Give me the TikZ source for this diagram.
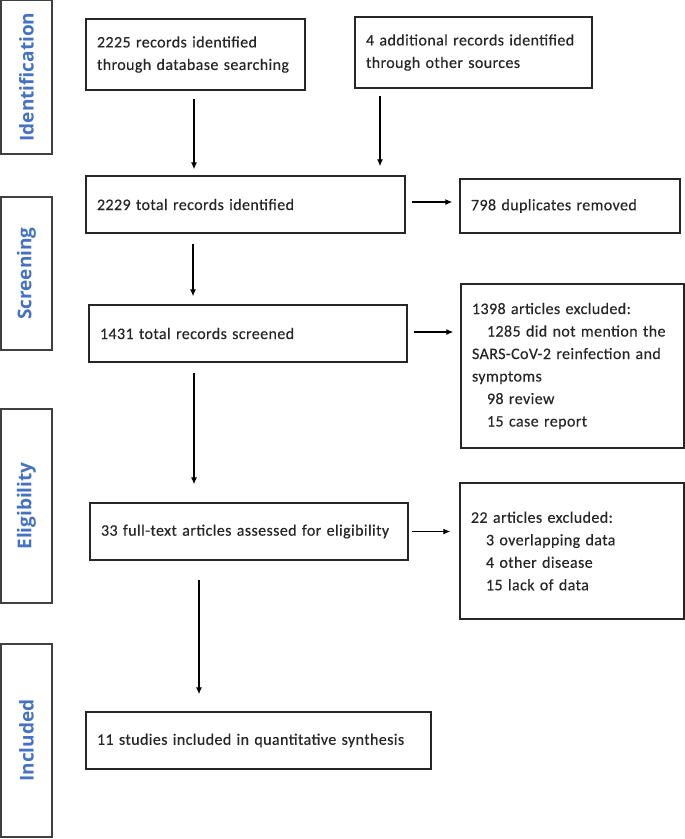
\documentclass[tikz,border=0pt]{standalone}
\usepackage{fontspec}
\setmainfont{Carlito}[LetterSpace=2.5, FakeBold=0.35]
\newfontfamily\labfont{Open Sans}
\usetikzlibrary{arrows.meta}
\definecolor{labblue}{HTML}{4472C4}
\begin{document}
\begin{tikzpicture}[x=1pt,y=-1pt,
  box/.style={draw=black!85, line width=1.4pt, align=left, inner xsep=11pt, inner ysep=0pt,
    font=\fontsize{16}{22.5}\selectfont, anchor=center, text=black!85},
  lab/.style={draw=black!75, line width=2pt, rotate=90, minimum height=51pt, inner sep=0pt,
    font=\labfont\bfseries\fontsize{19}{19}\selectfont, text=labblue},
  arr/.style={-{Latex[length=7pt,width=6pt]}, line width=1.2pt}]
\useasboundingbox (0,0) rectangle (685,839);

% stage labels
\node[lab, minimum width=154pt] (L1) at (26.5,77) {Identification};
\node[lab, minimum width=153pt] (L2) at (26.5,273.5) {Screening};
\node[lab, minimum width=194pt] (L3) at (26.5,506) {Eligibility};
\node[lab, minimum width=193pt] (L4) at (26.5,740.5) {Included};

% boxes
\node[box, text width=197pt, minimum height=71pt] (A) at (195.5,54.5) {2225 records identified\\through database searching};
\node[box, text width=215pt, minimum height=71pt] (B) at (473.5,52.5) {4 additional records identified\\through other sources};
\node[box, text width=297pt, minimum height=57pt] (C) at (245.5,204.5) {2229 total records identified};
\node[box, text width=198pt, minimum height=54pt] (D) at (570,206) {798 duplicates removed};
\node[box, text width=296pt, minimum height=57pt] (E) at (248,333.5) {1431 total records screened};
\node[box, text width=201pt, minimum height=164pt] (H) at (572.5,366) {1398 articles excluded:\\\hspace*{15pt}\mbox{1285 did not mention the}\\\mbox{SARS-CoV-2 reinfection and}\\symptoms\\\hspace*{15pt}98 review\\\hspace*{15pt}15 case report};
\node[box, text width=296pt, minimum height=57pt] (F) at (249,531.5) {33 full-text articles assessed for eligibility};
\node[box, text width=202pt, minimum height=136pt] (I) at (572,551) {22 articles excluded:\\\hspace*{15pt}3 overlapping data\\\hspace*{15pt}4 other disease\\\hspace*{15pt}15 lack of data};
\node[box, text width=323pt, minimum height=57pt] (G) at (258.5,740.5) {11 studies included in quantitative synthesis};

% arrows
\draw[arr, shorten <=8pt, shorten >=6pt] ([xshift=-1.5pt]A.south) -- ([xshift=-1.5pt]A.south |- C.north);
\draw[arr, shorten <=7pt, shorten >=9pt] ([xshift=-93.5pt]B.south) -- ([xshift=-93.5pt]B.south |- C.north);
\draw[arr, shorten <=10pt, shorten >=8pt] ([xshift=-52.5pt]C.south) -- ([xshift=-52.5pt]C.south |- E.north);
\draw[arr, shorten <=10pt, shorten >=18pt] ([xshift=-54pt]E.south) -- ([xshift=-54pt]E.south |- F.north);
\draw[arr, shorten <=19pt, shorten >=17pt] ([xshift=-50pt]F.south) -- ([xshift=-50pt]F.south |- G.north);
\draw[arr, shorten <=6pt, shorten >=7pt] ([yshift=2.5pt]C.east) -- ([yshift=2.5pt]C.east -| D.west);
\draw[arr, shorten <=6pt, shorten >=7pt] ([yshift=1.5pt]E.east) -- ([yshift=1.5pt]E.east -| H.west);
\draw[arr, shorten <=3pt, shorten >=9pt] (F.east) -- (F.east -| I.west);
\end{tikzpicture}
\end{document}
